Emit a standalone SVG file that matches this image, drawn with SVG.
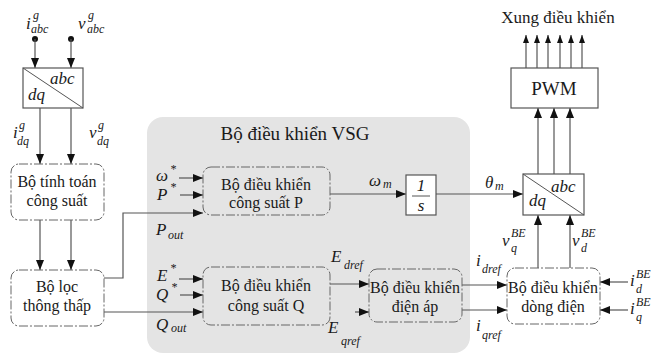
<svg xmlns="http://www.w3.org/2000/svg" width="652" height="358" viewBox="0 0 652 358" font-family="'Liberation Serif', 'DejaVu Serif', serif">
  <style>
    text { font-family: 'Liberation Serif', 'DejaVu Serif', serif; fill: #1a1a1a; }
    .box-text { font-size: 16px; text-anchor: middle; }
    .math { font-style: italic; font-size: 17px; }
    .sub { font-style: italic; font-size: 12px; }
    .wire { fill: none; stroke: #555; stroke-width: 1.2; }
    .ctrl { fill: none; stroke: #666; stroke-width: 1; stroke-dasharray: 9 2 2 2; }
    .solid { fill: #fff; stroke: #555; stroke-width: 1.2; }
  </style>
  <defs>
    <marker id="arrow" viewBox="0 0 10 8" refX="10" refY="4" markerWidth="10" markerHeight="8" markerUnits="userSpaceOnUse" orient="auto">
      <path d="M0,0 L10,4 L0,8 Z" fill="#111"/>
    </marker>
    <marker id="arrow-sm" viewBox="0 0 8 6" refX="8" refY="3" markerWidth="8" markerHeight="6" markerUnits="userSpaceOnUse" orient="auto">
      <path d="M0,0 L8,3 L0,6 Z" fill="#111"/>
    </marker>
  </defs>

  <!-- VSG controller panel -->
  <g id="vsg-panel">
    <rect x="147" y="117" width="323" height="236" rx="16" fill="#e4e4e4"/>
    <text x="295" y="140" font-size="19" text-anchor="middle">Bộ điều khiển VSG</text>
  </g>

  <!-- connectors -->
  <g id="connectors">
    <!-- grid measurements into abc/dq transform -->
    <circle cx="35" cy="39" r="3" fill="#111"/>
    <circle cx="71" cy="39" r="3" fill="#111"/>
    <line class="wire" x1="35" y1="39" x2="35" y2="68" marker-end="url(#arrow)"/>
    <line class="wire" x1="71" y1="39" x2="71" y2="68" marker-end="url(#arrow)"/>
    <!-- transform to power calculation -->
    <line class="wire" x1="40" y1="108" x2="40" y2="164" marker-end="url(#arrow)"/>
    <line class="wire" x1="71" y1="108" x2="71" y2="164" marker-end="url(#arrow)"/>
    <!-- power calculation to low-pass filter -->
    <line class="wire" x1="40" y1="220" x2="40" y2="270" marker-end="url(#arrow)"/>
    <line class="wire" x1="71" y1="220" x2="71" y2="270" marker-end="url(#arrow)"/>
    <!-- Pout and Qout -->
    <polyline class="wire" points="104,278 123,278 123,213 203,213" marker-end="url(#arrow)"/>
    <line class="wire" x1="104" y1="312" x2="203" y2="312" marker-end="url(#arrow)"/>
    <!-- references -->
    <line class="wire" x1="179" y1="178" x2="203" y2="178" marker-end="url(#arrow)"/>
    <line class="wire" x1="180" y1="195" x2="203" y2="195" marker-end="url(#arrow)"/>
    <line class="wire" x1="179" y1="279" x2="203" y2="279" marker-end="url(#arrow)"/>
    <line class="wire" x1="180" y1="295" x2="203" y2="295" marker-end="url(#arrow)"/>
    <!-- omega_m, theta_m -->
    <line class="wire" x1="330" y1="194" x2="406" y2="194" marker-end="url(#arrow)"/>
    <line class="wire" x1="436" y1="194" x2="523" y2="194" marker-end="url(#arrow)"/>
    <!-- Edref, Eqref -->
    <line class="wire" x1="330" y1="284" x2="369" y2="284" marker-end="url(#arrow)"/>
    <line class="wire" x1="355" y1="312" x2="369" y2="312" marker-end="url(#arrow)"/>
    <!-- idref, iqref -->
    <line class="wire" x1="462" y1="285" x2="507" y2="285" marker-end="url(#arrow)"/>
    <line class="wire" x1="462" y1="310" x2="507" y2="310" marker-end="url(#arrow)"/>
    <!-- measured BE currents -->
    <line class="wire" x1="628" y1="282" x2="600" y2="282" marker-end="url(#arrow)"/>
    <line class="wire" x1="628" y1="310" x2="600" y2="310" marker-end="url(#arrow)"/>
    <!-- vq, vd up to transform -->
    <line class="wire" x1="538" y1="268" x2="538" y2="215" marker-end="url(#arrow)"/>
    <line class="wire" x1="570" y1="268" x2="570" y2="215" marker-end="url(#arrow)"/>
    <!-- transform to PWM -->
    <line class="wire" x1="538" y1="174" x2="538" y2="108" marker-end="url(#arrow)"/>
    <line class="wire" x1="554" y1="174" x2="554" y2="108" marker-end="url(#arrow)"/>
    <line class="wire" x1="570" y1="174" x2="570" y2="108" marker-end="url(#arrow)"/>
    <!-- gate pulses -->
    <line class="wire" x1="526" y1="68" x2="526" y2="35" marker-end="url(#arrow-sm)"/>
    <line class="wire" x1="537" y1="68" x2="537" y2="35" marker-end="url(#arrow-sm)"/>
    <line class="wire" x1="548" y1="68" x2="548" y2="35" marker-end="url(#arrow-sm)"/>
    <line class="wire" x1="560" y1="68" x2="560" y2="35" marker-end="url(#arrow-sm)"/>
    <line class="wire" x1="571" y1="68" x2="571" y2="35" marker-end="url(#arrow-sm)"/>
    <line class="wire" x1="582" y1="68" x2="582" y2="35" marker-end="url(#arrow-sm)"/>
  </g>

  <!-- signal labels -->
  <g id="signal-labels">
    <text class="math" x="26" y="29">i</text><text class="sub" x="33" y="19">g</text><text class="sub" x="31" y="33" font-size="14">abc</text>
    <text class="math" x="78" y="29">v</text><text class="sub" x="88" y="19">g</text><text class="sub" x="87" y="33" font-size="14">abc</text>
    <text class="math" x="13" y="138">i</text><text class="sub" x="19" y="129">g</text><text class="sub" x="17" y="145">dq</text>
    <text class="math" x="89" y="138">v</text><text class="sub" x="98" y="129">g</text><text class="sub" x="97" y="145">dq</text>
    <text class="math" x="156" y="181" font-size="17">ω</text><text class="sub" x="170" y="173" font-size="11">*</text>
    <text class="math" x="157" y="200" font-size="17">P</text><text class="sub" x="170" y="191" font-size="11">*</text>
    <text class="math" x="156" y="235" font-size="19">P</text><text class="sub" x="168" y="239" font-size="13">out</text>
    <text class="math" x="157" y="281" font-size="17">E</text><text class="sub" x="170" y="272" font-size="11">*</text>
    <text class="math" x="156" y="300" font-size="17">Q</text><text class="sub" x="171" y="291" font-size="11">*</text>
    <text class="math" x="156" y="330" font-size="19">Q</text><text class="sub" x="171" y="332" font-size="13">out</text>
    <text class="math" x="369" y="186" font-size="19">ω</text><text class="sub" x="383" y="188" font-size="13">m</text>
    <text class="math" x="485" y="188" font-size="19">θ</text><text class="sub" x="495" y="190" font-size="13">m</text>
    <text class="math" x="331" y="262" font-size="19">E</text><text class="sub" x="344" y="269" font-size="13">dref</text>
    <text class="math" x="328" y="333" font-size="19">E</text><text class="sub" x="341" y="345" font-size="13">qref</text>
    <text class="math" x="476" y="266">i</text><text class="sub" x="482" y="273" font-size="13">dref</text>
    <text class="math" x="476" y="331">i</text><text class="sub" x="482" y="339" font-size="13">qref</text>
    <text class="math" x="502" y="246">v</text><text class="sub" x="511" y="237">BE</text><text class="sub" x="511" y="252" font-size="13">q</text>
    <text class="math" x="572" y="246">v</text><text class="sub" x="581" y="237">BE</text><text class="sub" x="581" y="252" font-size="13">d</text>
    <text class="math" x="630" y="286">i</text><text class="sub" x="636" y="278">BE</text><text class="sub" x="636" y="293" font-size="13">d</text>
    <text class="math" x="630" y="314">i</text><text class="sub" x="636" y="306">BE</text><text class="sub" x="636" y="321" font-size="13">q</text>
    <text x="558" y="23" font-size="17" text-anchor="middle">Xung điều khiển</text>
  </g>

  <!-- abc/dq transform (grid side) -->
  <g id="abc-dq-grid">
    <rect class="solid" x="23" y="68" width="60" height="40"/>
    <line x1="23" y1="68" x2="83" y2="108" stroke="#555" stroke-width="1"/>
    <text class="math" x="50" y="84" font-size="18">abc</text>
    <text class="math" x="28" y="100" font-size="18">dq</text>
  </g>

  <!-- power calculation -->
  <g id="power-calc">
    <rect class="ctrl" x="11" y="164" width="93" height="56" rx="8" fill="#fff"/>
    <text class="box-text" x="57" y="187">Bộ tính toán</text>
    <text class="box-text" x="57" y="206">công suất</text>
  </g>

  <!-- low-pass filter -->
  <g id="low-pass">
    <rect class="ctrl" x="11" y="270" width="93" height="56" rx="8" fill="#fff"/>
    <text class="box-text" x="57" y="292">Bộ lọc</text>
    <text class="box-text" x="57" y="311">thông thấp</text>
  </g>

  <!-- active power controller -->
  <g id="p-controller">
    <rect class="ctrl" x="203" y="167" width="127" height="48" rx="8"/>
    <text class="box-text" x="266" y="190">Bộ điều khiển</text>
    <text class="box-text" x="266" y="208">công suất P</text>
  </g>

  <!-- reactive power controller -->
  <g id="q-controller">
    <rect class="ctrl" x="203" y="267" width="127" height="58" rx="8"/>
    <text class="box-text" x="266" y="291">Bộ điều khiển</text>
    <text class="box-text" x="266" y="311">công suất Q</text>
  </g>

  <!-- integrator 1/s -->
  <g id="integrator">
    <rect class="solid" x="406" y="175" width="30" height="40" fill="none"/>
    <text class="math" x="421" y="191" font-size="17" text-anchor="middle">1</text>
    <line x1="412" y1="196" x2="430" y2="196" stroke="#555" stroke-width="1"/>
    <text class="math" x="421" y="211" font-size="17" text-anchor="middle">s</text>
  </g>

  <!-- voltage controller -->
  <g id="voltage-controller">
    <rect class="ctrl" x="369" y="269" width="93" height="53" rx="8"/>
    <text class="box-text" x="415" y="293">Bộ điều khiển</text>
    <text class="box-text" x="415" y="312">điện áp</text>
  </g>

  <!-- current controller -->
  <g id="current-controller">
    <rect class="ctrl" x="507" y="268" width="93" height="56" rx="8" fill="#fff"/>
    <text class="box-text" x="553" y="293">Bộ điều khiển</text>
    <text class="box-text" x="553" y="312">dòng điện</text>
  </g>

  <!-- dq/abc transform (converter side) -->
  <g id="dq-abc-conv">
    <rect class="solid" x="523" y="174" width="61" height="41"/>
    <line x1="523" y1="174" x2="584" y2="215" stroke="#555" stroke-width="1"/>
    <text class="math" x="551" y="192" font-size="18">abc</text>
    <text class="math" x="529" y="206" font-size="18">dq</text>
  </g>

  <!-- PWM -->
  <g id="pwm">
    <rect class="solid" x="511" y="68" width="87" height="40"/>
    <text x="554" y="95" font-size="19" text-anchor="middle">PWM</text>
  </g>
</svg>
